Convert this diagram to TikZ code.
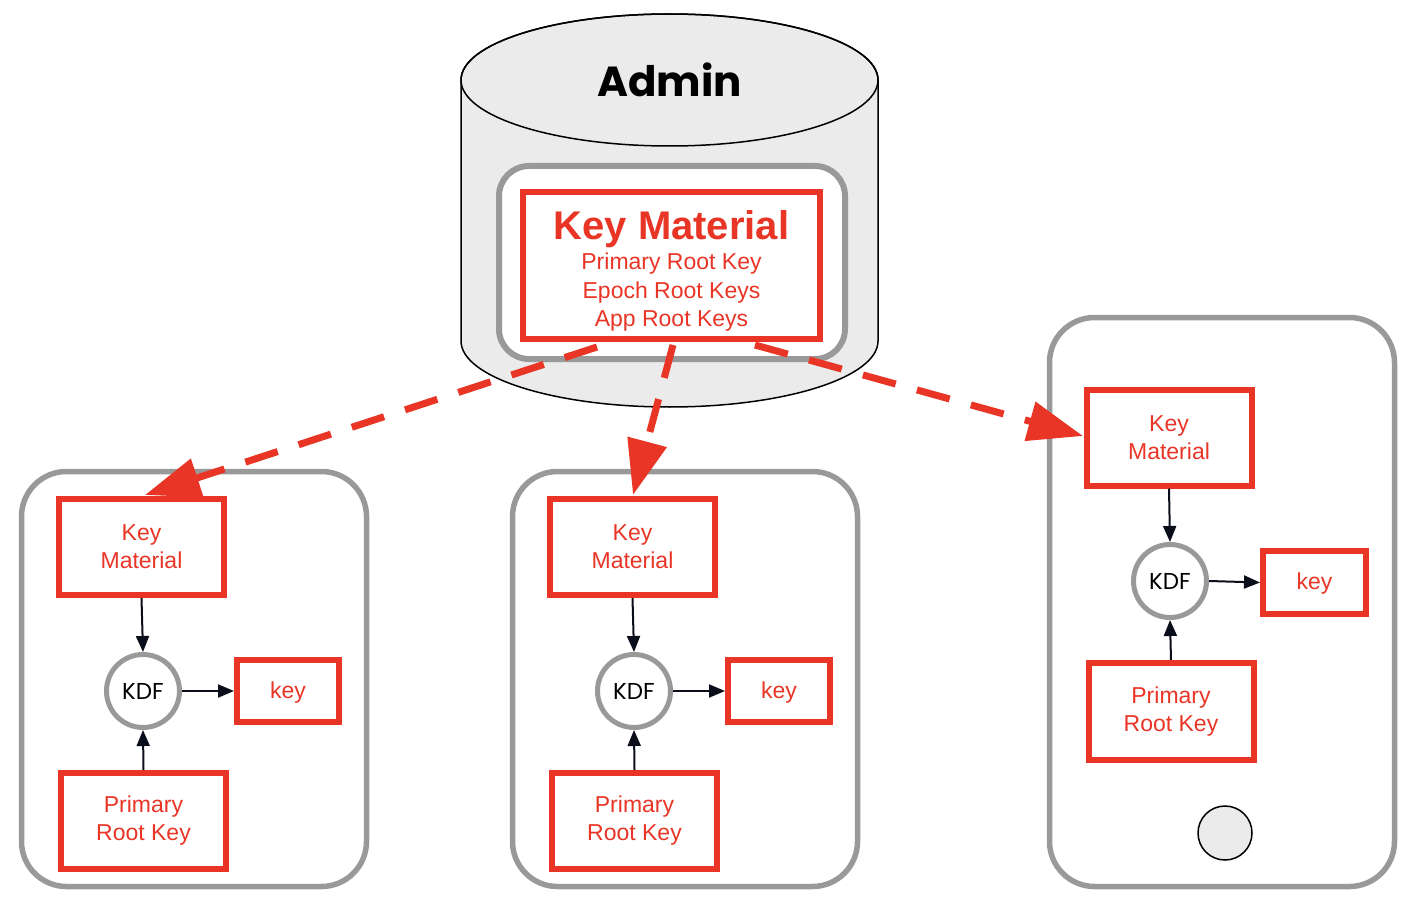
\documentclass[tikz,border=0pt]{standalone}
\usepackage{fontspec}
\setmainfont{Liberation Sans}
\newfontfamily\geo{Poppins}
\usetikzlibrary{arrows.meta}
\definecolor{kred}{RGB}{233,53,38}
\definecolor{kgray}{RGB}{153,153,153}
\definecolor{kfill}{RGB}{235,235,235}
\definecolor{kink}{RGB}{10,14,26}
\tikzset{
  redbox/.style={draw=kred, line width=6pt, fill=white, text=kred, align=center,
    font=\fontsize{23}{28}\selectfont, inner sep=0pt},
  kmbox/.style={redbox, minimum width=165pt, minimum height=96pt},
  keybox/.style={redbox, minimum width=102pt, minimum height=62pt},
  kdf/.style={draw=kgray, line width=5pt, circle, fill=white, minimum size=73pt, inner sep=0pt,
    font=\geo\fontsize{23}{26}\selectfont, text=black},
  card/.style={draw=kgray, line width=5.5pt, rounded corners=45pt, fill=white},
  flow/.style={draw=kink, line width=2pt, -{Triangle[length=16pt,width=13pt]}},
  push/.style={draw=kred, line width=7pt, dash pattern=on 34pt off 22pt,
    -{Triangle[length=55pt,width=39pt]}},
}
\newcommand{\keytxt}{\raisebox{-7pt}[0pt][0pt]{key}}
\begin{document}
\begin{tikzpicture}[x=1pt,y=-1pt]
\useasboundingbox (0,0) rectangle (1414,912);
% cards
\draw[card] (21.5,471.5) rectangle (366.5,886.5);
\draw[card] (512.5,471.5) rectangle (857.5,886.5);
\draw[card] (1049.5,317.5) rectangle (1394.5,886.5);
% cylinder
\filldraw[fill=kfill, draw=black, line width=1.5pt]
  (461,80) -- (461,341) arc[start angle=180, end angle=360, x radius=208.5pt, y radius=66pt]
  -- (878,80) arc[start angle=0, end angle=180, x radius=208.5pt, y radius=66pt] -- cycle;
\draw[black, line width=1.5pt] (669.5,80) ellipse[x radius=208.5pt, y radius=66pt];
\node[font=\geo\bfseries\fontsize{42}{48}\selectfont] (admin) at (669.5,80) {Admin};
\draw[draw=kgray, line width=6pt, fill=white, rounded corners=30pt] (499,166) rectangle (845,359);
\node[redbox, minimum width=297pt, minimum height=147pt] (kmain) at (671.5,265.5) {};
\node[text=kred, align=center, font=\fontsize{23}{28}\selectfont, inner sep=0pt] (kmaintext) at (671.5,271)
  {\raisebox{-3pt}{\bfseries\fontsize{40}{44}\selectfont Key Material}\\[5pt]
   Primary Root Key\\[0.5pt] Epoch Root Keys\\[0.5pt] App Root Keys};
% left device
\node[kmbox] (kmL) at (141.5,547) {Key\\Material};
\node[kdf] (kdfL) at (143,691) {KDF};
\node[keybox] (keyL) at (288,691) {\keytxt};
\node[kmbox] (prkL) at (143.5,821) {Primary\\Root Key};
% middle device
\node[kmbox] (kmM) at (632.5,547) {Key\\Material};
\node[kdf] (kdfM) at (634,691) {KDF};
\node[keybox] (keyM) at (779,691) {\keytxt};
\node[kmbox] (prkM) at (634.5,821) {Primary\\Root Key};
% right device
\node[kmbox] (kmR) at (1169,437.5) {Key\\Material};
\node[kdf] (kdfR) at (1170,581) {KDF};
\node[keybox, minimum width=103pt, minimum height=63pt] (keyR) at (1314.5,582.5) {\keytxt};
\node[kmbox, minimum height=97pt] (prkR) at (1171,711.5) {Primary\\Root Key};
\node[draw=black, line width=1.5pt, fill=kfill, circle, minimum size=54pt, inner sep=0pt] (btn) at (1225,833) {};
% black flows
\foreach \s in {L,M,R}{
  \draw[flow] (km\s.south) -- (kdf\s.north);
  \draw[flow] (kdf\s.east) -- (key\s.west);
  \draw[flow] (prk\s.north) -- (kdf\s.south);
}
% dashed distribution arrows
\coordinate (sL) at (597,347);
\coordinate (sM) at (673,345);
\coordinate (sR) at (755,345);
\coordinate (tL) at (145,495);
\coordinate (tM) at (633,495);
\coordinate (tR) at (1083,436);
\draw[push] (sL) -- (tL);
\draw[push] (sM) -- (tM);
\draw[push] (sR) -- (tR);
\end{tikzpicture}
\end{document}
